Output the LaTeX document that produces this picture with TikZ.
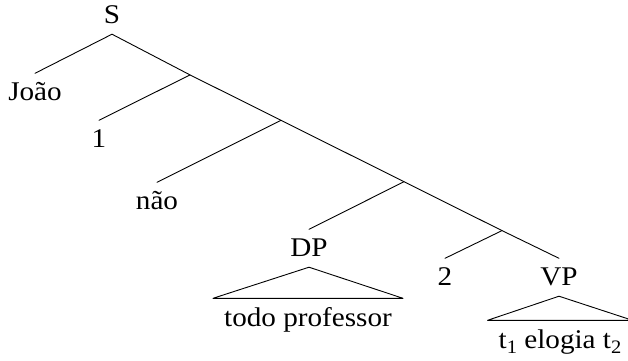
\documentclass[tikz,border=0pt]{standalone}
\usepackage{fontspec}
\setmainfont{Liberation Serif}[FakeStretch=1.08]
\newcommand\sbs[1]{\raisebox{-5.5pt}{\fontsize{19}{19}\selectfont #1}}
\begin{document}
\begin{tikzpicture}[x=1pt,y=-1pt,
  every node/.style={font=\fontsize{27}{32}\selectfont},
  lbl/.style={anchor=base,inner xsep=0pt,inner ysep=6pt,text height=20.5pt,text depth=5pt},
  phr/.style={anchor=base,inner xsep=11pt,inner ysep=10pt,text height=17.5pt,text depth=5pt},
  edge/.style={line width=0.9pt,line cap=round}]
\clip (0,0) rectangle (628,360);
% labels
\node[lbl] (S) at (112,23) {S};
\node[lbl] (joao) at (35,100) {João};
\node[lbl] (one) at (99,147) {1};
\node[lbl] (nao) at (157,209) {não};
\node[lbl] (DP) at (309,256) {DP};
\node[lbl] (two) at (445,285) {2};
\node[lbl] (VP) at (559,285) {VP};
\node[phr] (todo) at (308,326) {todo professor};
\node[phr] (elog) at (560,348) {t\sbs{1} elogia t\sbs{2}};
% junctions
\coordinate (J1) at (190,74.9);
\coordinate (J2) at (281,120.3);
\coordinate (J3) at (404,181.7);
\coordinate (J4) at (502,230.6);
% edges
\draw[edge] (S.south) -- (joao.north);
\draw[edge] (S.south) -- (J1) -- (J2) -- (J3) -- (J4) -- (VP.north);
\draw[edge] (J1) -- (one.north);
\draw[edge] (J2) -- (nao.north);
\draw[edge] (J3) -- (DP.north);
\draw[edge] (J4) -- (two.north);
% triangles
\draw[edge,line join=round] (DP.south) -- (todo.north east) -- (todo.north west) -- cycle;
\draw[edge,line join=round] (VP.south) -- (elog.north east) -- (elog.north west) -- cycle;
\end{tikzpicture}
\end{document}
